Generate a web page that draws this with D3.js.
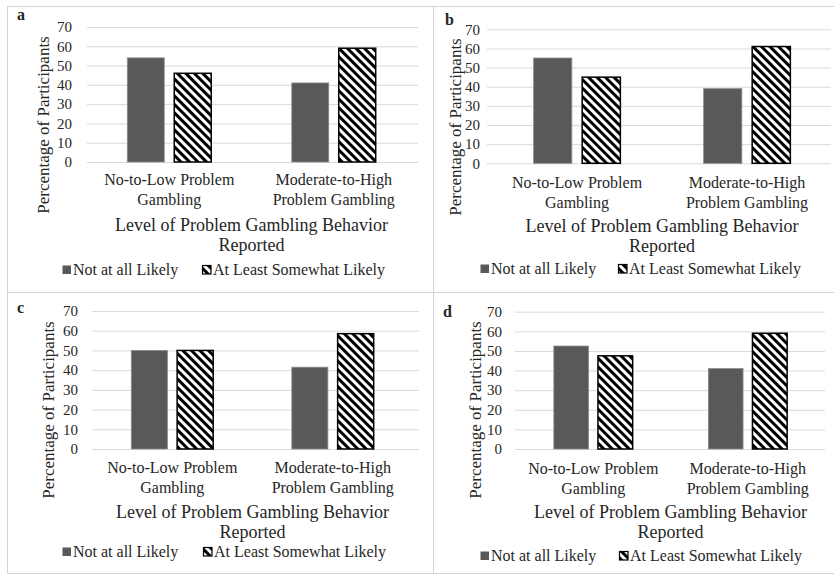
<!DOCTYPE html>
<html>
<head>
<meta charset="utf-8">
<script src="https://cdn.jsdelivr.net/npm/d3@7"></script>
<style>
  html, body { margin: 0; padding: 0; background: #fff; }
  svg { display: block; }
</style>
</head>
<body>
<svg id="chart" width="834" height="579"></svg>
<script>
// Categories, series and tick labels
const categoryLines = [["No-to-Low Problem", "Gambling"], ["Moderate-to-High", "Problem Gambling"]];
const seriesNames = ["Not at all Likely", "At Least Somewhat Likely"];
const yTicks = [0, 10, 20, 30, 40, 50, 60, 70];
const panelLetters = ["a", "b", "c", "d"];
const yAxisTitle = "Percentage of Participants";
const xAxisTitle = ["Level of Problem Gambling Behavior", "Reported"];

// Percentage of participants per panel: [No-to-Low, Moderate-to-High]
const notLikelyA = [54, 41];
const atLeastA   = [46, 59];
const notLikelyB = [55, 39];
const atLeastB   = [45, 61];
const notLikelyC = [50, 41.5];
const atLeastC   = [50, 58.5];
const notLikelyD = [52.5, 41];
const atLeastD   = [47.5, 59];

const panelValues = [
  [notLikelyA, atLeastA],
  [notLikelyB, atLeastB],
  [notLikelyC, atLeastC],
  [notLikelyD, atLeastD]
];

// Placement of each panel on the page
const layouts = [
  { lx: 17,  ly: 20,  x0: 87,  x1: 416, gx: [87, 418],  yTop: 27,   yBase: 162,   tickRight: 72,  titleX: 43,  titleY: 125, catY: 185, axisY: 231, legY: 275, legX: [62, 202] },
  { lx: 445, ly: 25,  x0: 492, x1: 832, gx: [487, 831], yTop: 29.3, yBase: 163.3, tickRight: 480, titleX: 455, titleY: 127, catY: 188, axisY: 232, legY: 274, legX: [480, 618] },
  { lx: 17,  ly: 313, x0: 92,  x1: 413, gx: [92, 419],  yTop: 311,  yBase: 449,   tickRight: 78,  titleX: 48,  titleY: 410, catY: 473, axisY: 518, legY: 557, legX: [62, 203] },
  { lx: 443, ly: 317, x0: 516, x1: 825, gx: [515, 825], yTop: 311.7,yBase: 449,   tickRight: 502, titleX: 475, titleY: 410, catY: 474, axisY: 518, legY: 561, legX: [480, 619] }
];

const FONT = '"Liberation Serif", "Times New Roman", serif';
const TEXT_COLOR = "#262626";

const svg = d3.select("#chart").style("font-family", FONT);
const defs = svg.append("defs");

// Diagonal hatch for the "At Least Somewhat Likely" series
const hatch = defs.append("pattern")
  .attr("id", "hatch")
  .attr("patternUnits", "userSpaceOnUse")
  .attr("width", 6)
  .attr("height", 6)
  .attr("patternTransform", "rotate(-45)");
hatch.append("rect").attr("width", 6).attr("height", 6).attr("fill", "#fff");
hatch.append("rect").attr("width", 3).attr("height", 6).attr("fill", "#000");

const darkFill = "#595959";
const gridColor = "#d9d9d9";

// Panel frame lines
const frame = svg.append("g").attr("stroke", "#d4d4d4").attr("stroke-width", 1);
frame.append("line").attr("x1", 7).attr("x2", 834).attr("y1", 6.5).attr("y2", 6.5);
frame.append("line").attr("x1", 7).attr("x2", 834).attr("y1", 292.5).attr("y2", 292.5);
frame.append("line").attr("x1", 7).attr("x2", 834).attr("y1", 573.5).attr("y2", 573.5);
frame.append("line").attr("x1", 7.5).attr("x2", 7.5).attr("y1", 6).attr("y2", 574);
frame.append("line").attr("x1", 433.5).attr("x2", 433.5).attr("y1", 6).attr("y2", 574);

function addText(sel, size) {
  return sel.append("text")
    .style("font-family", FONT)
    .attr("font-size", size)
    .attr("fill", TEXT_COLOR);
}

panelValues.forEach((vals, i) => {
  const L = layouts[i];
  const g = svg.append("g");

  const y = d3.scaleLinear().domain([0, 70]).range([L.yBase, L.yTop]);
  const x = d3.scaleBand().domain([0, 1]).range([L.x0, L.x1]).padding(0);
  const xs = d3.scaleBand().domain([0, 1]).range([0, x.bandwidth()])
    .paddingInner(0.213).paddingOuter(0.858);

  // Gridlines
  const grid = g.append("g")
    .attr("transform", `translate(${L.gx[0]},0)`)
    .call(d3.axisRight(y).tickValues(yTicks).tickSize(L.gx[1] - L.gx[0]).tickFormat(""));
  grid.select(".domain").remove();
  grid.selectAll(".tick line").attr("stroke", gridColor).attr("stroke-width", 1);

  // Y tick labels
  const yAx = g.append("g")
    .attr("transform", `translate(${L.tickRight},0)`)
    .call(d3.axisLeft(y).tickValues(yTicks).tickSize(0).tickPadding(0));
  yAx.attr("font-family", null);
  yAx.select(".domain").remove();
  yAx.selectAll("text")
    .style("font-family", FONT)
    .attr("font-size", 15)
    .attr("fill", TEXT_COLOR);

  // Bars
  [0, 1].forEach(c => {
    [0, 1].forEach(s => {
      const v = vals[s][c];
      g.append("rect")
        .attr("x", x(c) + xs(s))
        .attr("width", xs.bandwidth())
        .attr("y", y(v))
        .attr("height", y(0) - y(v))
        .attr("fill", s === 0 ? darkFill : "url(#hatch)")
        .attr("stroke", s === 0 ? "#8c8c8c" : "#000")
        .attr("stroke-width", s === 0 ? 0.8 : 1.5);
    });
  });

  // Category labels
  [0, 1].forEach(c => {
    const cx = x(c) + x.bandwidth() / 2;
    const t = addText(g, 16)
      .attr("text-anchor", "middle")
      .attr("x", cx)
      .attr("y", L.catY);
    categoryLines[c].forEach((line, k) => {
      t.append("tspan")
        .attr("x", cx)
        .attr("dy", k === 0 ? 0 : 19.5)
        .text(line);
    });
  });

  // X axis title
  const xt = addText(g, 18)
    .attr("text-anchor", "middle")
    .attr("y", L.axisY);
  xAxisTitle.forEach((line, k) => {
    xt.append("tspan")
      .attr("x", (L.x0 + L.x1) / 2)
      .attr("dy", k === 0 ? 0 : 20)
      .text(line);
  });

  // Y axis title
  addText(g, 17)
    .attr("text-anchor", "middle")
    .attr("transform", `translate(${L.titleX + 6},${L.titleY}) rotate(-90)`)
    .text(yAxisTitle);

  // Panel letter
  addText(g, 16)
    .attr("x", L.lx)
    .attr("y", L.ly)
    .attr("font-weight", "bold")
    .text(panelLetters[i]);

  // Legend
  seriesNames.forEach((name, s) => {
    const lx = L.legX[s];
    g.append("rect")
      .attr("x", lx + 0.5)
      .attr("y", L.legY - 9.5)
      .attr("width", 8.5)
      .attr("height", 8.5)
      .attr("fill", s === 0 ? darkFill : "url(#hatch)")
      .attr("stroke", s === 0 ? "none" : "#000")
      .attr("stroke-width", 1.2);
    addText(g, 16)
      .attr("x", lx + 11)
      .attr("y", L.legY)
      .text(name);
  });
});
</script>
</body>
</html>
